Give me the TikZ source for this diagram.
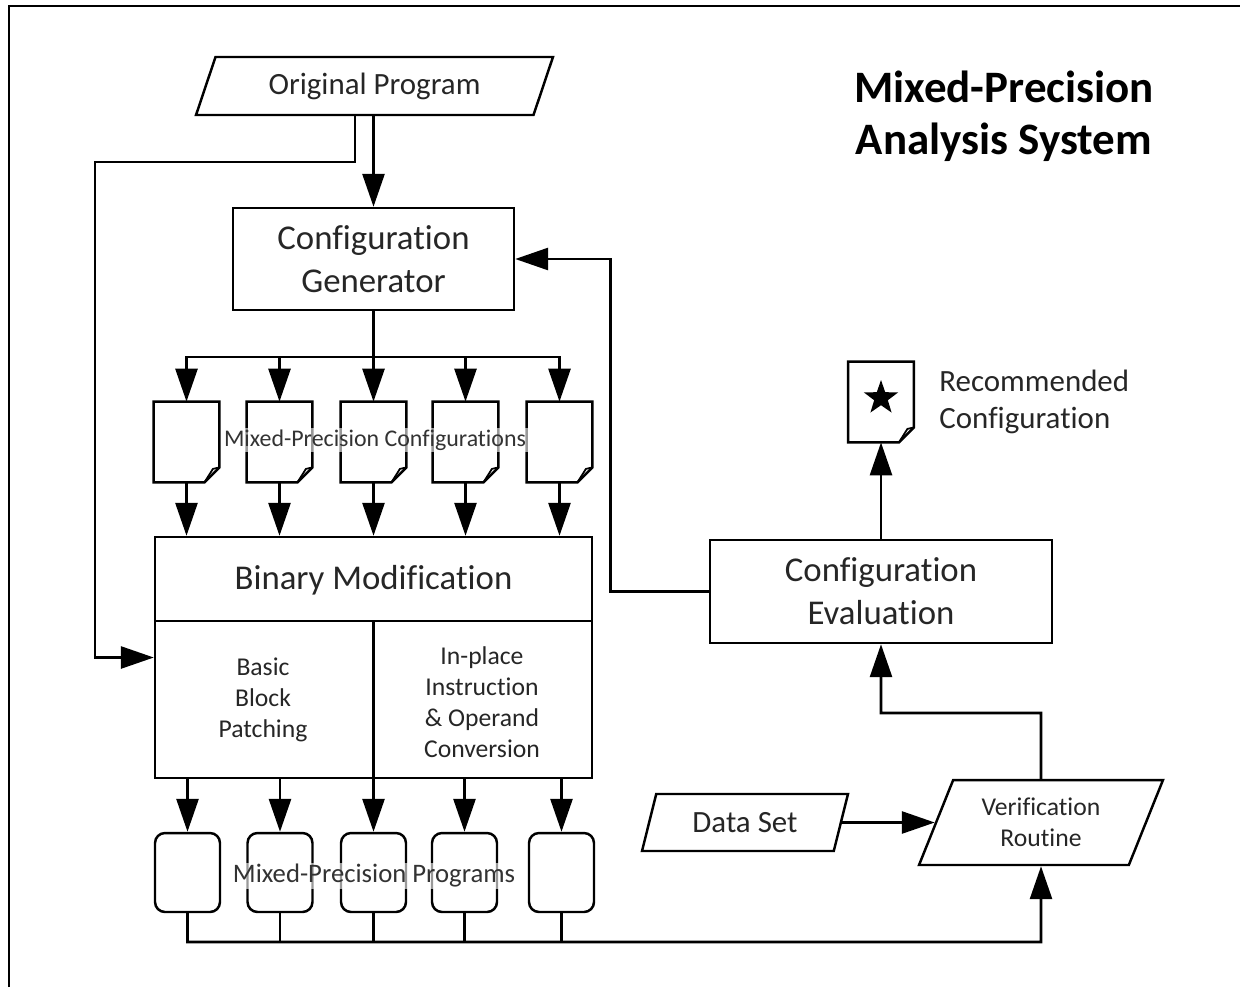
\documentclass[tikz,border=0pt]{standalone}
\usepackage{fontspec}
\setmainfont{Carlito}[Ligatures=NoCommon]
\usetikzlibrary{shapes.geometric, arrows.meta}

\begin{document}
\begin{tikzpicture}[x=0.02cm, y=-0.02cm, line width=1.6pt,
	main/.style = {draw, line width=1.4pt, text=black!85, align=center, inner sep=0pt},
	io/.style = {main, trapezium, trapezium left angle=55, trapezium right angle=125, trapezium stretches body},
	prog/.style = {main, rounded corners=0.2cm, minimum width=1.3cm, minimum height=1.58cm},
	doc/.style = {minimum width=1.26cm, minimum height=1.56cm, inner sep=0pt,
		append after command={\pgfextra{\let\docnode\tikzlastnode\pgfinterruptpath
		\draw[line width=1.4pt] (\docnode.north west) -- (\docnode.north east) -- ([yshift=0.3cm]\docnode.south east) -- ([xshift=-0.3cm]\docnode.south east) -- (\docnode.south west) -- cycle;
		\draw[line width=1pt] ([yshift=0.3cm]\docnode.south east) -- ([xshift=-0.13cm, yshift=0.27cm]\docnode.south east) -- ([xshift=-0.3cm]\docnode.south east);
		\endpgfinterruptpath}}},
	tag/.style = {fill=white, fill opacity=0.6, text opacity=1, text=black!80, inner sep=1pt, font=\fontsize{13.6}{16}\selectfont},
	txt/.style = {text=black!85, align=center, inner sep=0pt},
	big/.style = {font=\fontsize{19.8}{24.4}\selectfont},
	med/.style = {font=\fontsize{17.6}{21}\selectfont},
	small/.style = {font=\fontsize{14.6}{17.6}\selectfont},
	arr/.style = {-{Triangle[length=0.66cm, width=0.44cm]}}]
	\useasboundingbox (0,0) rectangle (1240,987);
	\draw (9,987) -- (9,6) -- (1240,6);

	% title
	\node[font=\bfseries\fontsize{25.6}{29.5}\selectfont, align=center] (title) at (1004,116) {Mixed-Precision\\Analysis System};

	\node[io, med, minimum width=7.14cm, minimum height=1.16cm, trapezium left angle=54, trapezium right angle=126] (1) at (374.5,86) {Original Program};
	\node[main, big, minimum width=5.62cm, minimum height=2.04cm] (2) at (373.5,259) {Configuration\\Generator};

	% configurations
	\node[doc] (c1) at (186.5,442) {};
	\node[doc] (c2) at (279.5,442) {};
	\node[doc] (c3) at (373.5,442) {};
	\node[doc] (c4) at (465.5,442) {};
	\node[doc] (c5) at (559.5,442) {};
	\node[tag] (cl) at (375,440) {Mixed-Precision Configurations};

	% binary modification
	\node[main, minimum width=8.74cm, minimum height=4.82cm] (3) at (373.5,657.5) {};
	\node[txt, big] (3a) at (373.5,580) {Binary Modification};
	\node[txt, small] (3b) at (263,700) {Basic\\Block\\Patching};
	\node[txt, small] (3c) at (482,702) {In-place\\Instruction\\\& Operand\\Conversion};
	\coordinate (div) at (3.center |- 0,621);
	\draw[line width=1.4pt] (3.west |- div) -- (3.east |- div);
	\draw[line width=1.4pt] (div) -- (3.south);

	% programs
	\node[prog] (p1) at (187.5,872.5) {};
	\node[prog] (p2) at (280,872.5) {};
	\node[prog] (p3) at (373.5,872.5) {};
	\node[prog] (p4) at (464.5,872.5) {};
	\node[prog] (p5) at (561.5,872.5) {};
	\node[tag, font=\fontsize{15.2}{18}\selectfont] (pl) at (374,876) {Mixed-Precision Programs};

	\node[io, med, minimum width=4.12cm, minimum height=1.14cm] (4) at (745,822.5) {Data Set};
	\node[io, small, minimum width=4.88cm, minimum height=1.7cm] (5) at (1041,822.5) {Verification\\Routine};
	\node[main, big, minimum width=6.84cm, minimum height=2.06cm] (6) at (881,591.5) {Configuration\\Evaluation};
	\node[doc] (7) at (881,402) {};
	\node[star, star points=5, star point ratio=2.5, fill, minimum size=0.72cm, inner sep=0pt] (7s) at (881,398) {};
	\node[txt, med, anchor=west, align=left] (7t) at (938,402) {Recommended\\Configuration};

	% connectors
	\coordinate (bend) at (95,162);
	\coordinate (split) at (373.5,357);
	\coordinate (merge) at (1041,942);
	\coordinate (turn) at (1041,713);
	\draw[arr] (2.north |- 1.south) -- (2.north);
	\draw[arr] ([xshift=-0.39cm]1.south) |- (bend) |- (3.west);
	\draw (2.south) -- (split);
	\draw[arr] (split) -| (c1.north);
	\draw[arr] (split) -| (c2.north);
	\draw[arr] (split) -- (c3.north);
	\draw[arr] (split) -| (c4.north);
	\draw[arr] (split) -| (c5.north);
	\draw[arr] (c1.south) -- (c1.south |- 3.north);
	\draw[arr] (c2.south) -- (c2.south |- 3.north);
	\draw[arr] (c3.south) -- (c3.south |- 3.north);
	\draw[arr] (c4.south) -- (c4.south |- 3.north);
	\draw[arr] (c5.south) -- (c5.south |- 3.north);
	\draw[arr] (p1.north |- 3.south) -- (p1.north);
	\draw[arr] (p2.north |- 3.south) -- (p2.north);
	\draw[arr] (p3.north |- 3.south) -- (p3.north);
	\draw[arr] (p4.north |- 3.south) -- (p4.north);
	\draw[arr] (p5.north |- 3.south) -- (p5.north);
	\draw[arr] (p1.south) |- (merge) -- (5.south);
	\draw (p2.south) |- (merge);
	\draw (p3.south) |- (merge);
	\draw (p4.south) |- (merge);
	\draw (p5.south) |- (merge);
	\draw[arr] (4.east) -- (5.west);
	\draw[arr] (5.north) -- (turn) -| (6.south);
	\draw[arr] (6.north) -- (7.south);
	\draw[arr] (6.west) -- ++(-98,0) |- (2.east);
\end{tikzpicture}
\end{document}
